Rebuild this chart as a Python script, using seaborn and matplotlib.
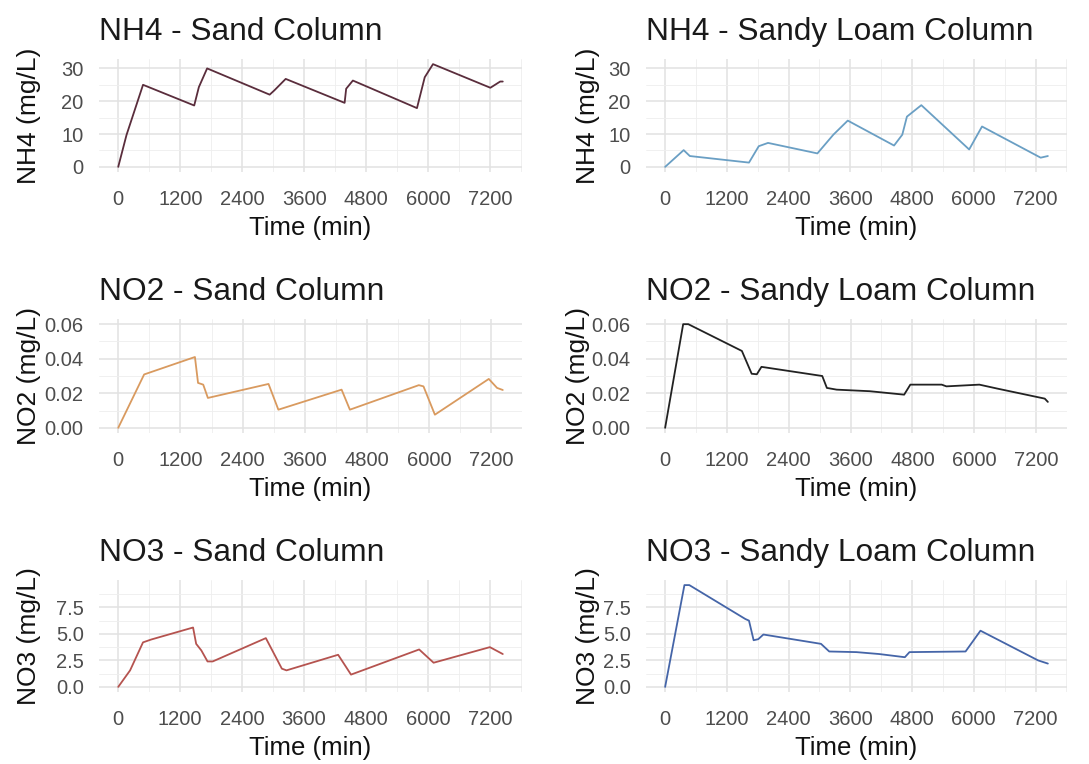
import matplotlib
matplotlib.use("Agg")
import matplotlib.pyplot as plt
import seaborn as sns
import pandas as pd
from matplotlib.ticker import FixedLocator, FormatStrFormatter

# values (time in min)
nh4_sand_t = [0, 160, 480, 1470, 1560, 1720, 2930, 3020, 3240, 4380, 4410, 4540, 5780, 5930, 6090, 7200, 7390, 7440]
nh4_sand = [0, 9.7, 25.0, 18.7, 24.3, 30.0, 22.0, 23.3, 26.8, 19.5, 23.8, 26.3, 17.9, 27.3, 31.3, 24.1, 26.0, 26.0]

nh4_loam_t = [0, 360, 480, 1630, 1820, 2000, 2960, 3270, 3550, 4450, 4610, 4700, 4980, 5910, 6160, 7300, 7440]
nh4_loam = [0, 5.1, 3.3, 1.3, 6.3, 7.3, 4.1, 9.8, 14.1, 6.5, 9.8, 15.3, 18.8, 5.3, 12.3, 2.8, 3.3]

no2_sand_t = [0, 500, 1480, 1540, 1640, 1730, 2900, 3090, 4310, 4470, 5800, 5890, 6110, 7150, 7310, 7420]
no2_sand = [0, 0.0309, 0.041, 0.026, 0.025, 0.0173, 0.0254, 0.0105, 0.0221, 0.0105, 0.0247, 0.024, 0.0076, 0.0283, 0.0231, 0.0219]

no2_loam_t = [0, 350, 450, 1490, 1680, 1780, 1870, 3050, 3140, 3330, 3970, 4640, 4760, 5370, 5460, 6100, 6450, 7370, 7430]
no2_loam = [0, 0.060, 0.060, 0.0445, 0.0313, 0.031, 0.0353, 0.030, 0.0231, 0.0221, 0.0212, 0.0192, 0.025, 0.025, 0.024, 0.025, 0.0227, 0.0169, 0.015]

no3_sand_t = [0, 230, 480, 640, 1450, 1510, 1610, 1730, 1830, 2860, 3170, 3260, 4260, 4510, 5830, 6110, 7200, 7450]
no3_sand = [0, 1.56, 4.2, 4.47, 5.6, 4.06, 3.44, 2.4, 2.4, 4.6, 1.72, 1.56, 3.03, 1.16, 3.53, 2.28, 3.75, 3.1]

no3_loam_t = [0, 375, 470, 1560, 1630, 1720, 1810, 1910, 3030, 3190, 3720, 4160, 4660, 4750, 5840, 6130, 7250, 7440]
no3_loam = [0, 9.6, 9.6, 6.4, 6.25, 4.4, 4.5, 4.94, 4.06, 3.34, 3.28, 3.1, 2.8, 3.28, 3.34, 5.3, 2.5, 2.2]

titles = ["NH4 - Sand Column", "NH4 - Sandy Loam Column",
          "NO2 - Sand Column", "NO2 - Sandy Loam Column",
          "NO3 - Sand Column", "NO3 - Sandy Loam Column"]
ylabels = ["NH4 (mg/L)", "NO2 (mg/L)", "NO3 (mg/L)"]
colors = ["#5a2d3c", "#6a9fc4", "#d99a5f", "#222222", "#b5534f", "#4565a8"]

series = [(nh4_sand_t, nh4_sand), (nh4_loam_t, nh4_loam),
          (no2_sand_t, no2_sand), (no2_loam_t, no2_loam),
          (no3_sand_t, no3_sand), (no3_loam_t, no3_loam)]

x_major = [0, 1200, 2400, 3600, 4800, 6000, 7200]
x_minor = [600, 1800, 3000, 4200, 5400, 6600, 7800]
y_major = [[0, 10, 20, 30], [0, 0.02, 0.04, 0.06], [0, 2.5, 5.0, 7.5]]
y_minor = [[5, 15, 25], [0.01, 0.03, 0.05], [1.25, 3.75, 6.25, 8.75]]
y_fmt = ["%d", "%.2f", "%.1f"]

sns.set_theme(style="white")
plt.rcParams['font.family'] = ['Liberation Sans', 'DejaVu Sans']

W, H = 1089, 764
fig = plt.figure(figsize=(W / 100, H / 100), dpi=100)

# panel boxes in pixels: (left, right) per column, (top, bottom) per row
cols = [(99, 522), (646, 1067)]
rows = [(59, 172), (319, 433), (580, 692)]
# right edge of the rotated y label, in pixels
ylab_x = [[41, 600], [41, 590], [41, 600]]

for r in range(3):
    first = None
    for c in range(2):
        i = r * 2 + c
        l, rr = cols[c]
        t, b = rows[r]
        ax = fig.add_axes([l / W, 1 - b / H, (rr - l) / W, (b - t) / H], sharey=first)
        if first is None:
            first = ax
        df = pd.DataFrame({"time": series[i][0], "value": series[i][1]})
        sns.lineplot(data=df, x="time", y="value", ax=ax, color=colors[i], linewidth=1.3)

        ax.xaxis.set_major_locator(FixedLocator(x_major))
        ax.xaxis.set_minor_locator(FixedLocator(x_minor))
        ax.yaxis.set_major_locator(FixedLocator(y_major[r]))
        ax.yaxis.set_minor_locator(FixedLocator(y_minor[r]))
        ax.yaxis.set_major_formatter(FormatStrFormatter(y_fmt[r]))
        ax.grid(which="major", color="#e2e2e2", linewidth=1.1)
        ax.grid(which="minor", color="#eeeeee", linewidth=0.6)
        ax.set_axisbelow(True)
        for s in ax.spines.values():
            s.set_visible(False)
        ax.tick_params(which="both", length=0, labelsize=14.5, labelcolor="#4d4d4d", pad=11)
        ax.tick_params(axis="x", pad=13)
        ax.tick_params(axis="y", labelleft=True)

        ax.set_title(titles[i], loc="left", fontsize=22.8, color="#1a1a1a", pad=14)
        ax.set_xlabel("Time (min)", fontsize=18.5, color="#111111", labelpad=5)
        ax.set_ylabel(ylabels[r], fontsize=19, color="#111111")
        ax.yaxis.set_label_coords((ylab_x[r][c] - l) / (rr - l), 0.5)

fig.savefig("out.png", dpi=100, facecolor="white")
